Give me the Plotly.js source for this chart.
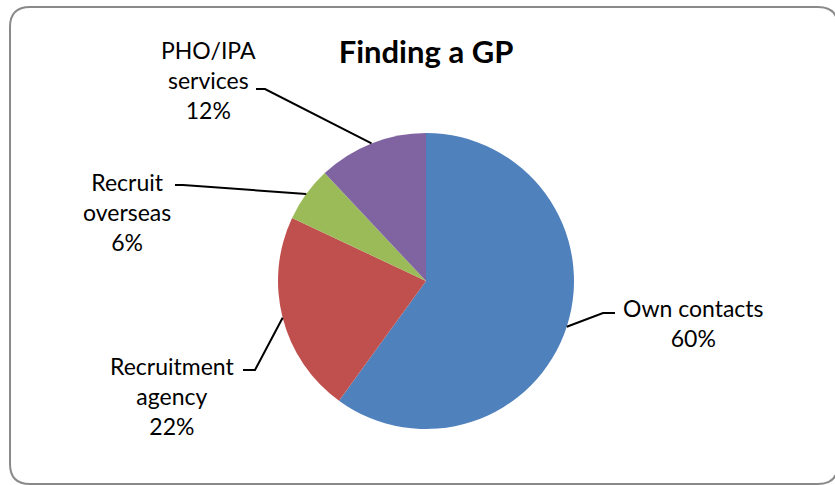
<!DOCTYPE html>
<html>
<head>
<meta charset="utf-8">
<script src="https://cdn.plot.ly/plotly-3.0.1.min.js"></script>
<style>html,body{margin:0;padding:0;background:#fff;}#chart{width:835px;height:485px;}</style>
</head>
<body>
<div id="chart"></div>
<script>
// ---- data ----
const categories = ['Own contacts', 'Recruitment agency', 'Recruit overseas', 'PHO/IPA services'];
const labelText = ['Own contacts', 'Recruitment<br>agency', 'Recruit<br>overseas', 'PHO/IPA<br>services'];
const values = [60, 22, 6, 12];
const colors = ['#4F81BD', '#C0504D', '#9BBB59', '#8064A2'];
const chartTitle = 'Finding a GP';

// ---- layout (pixels) ----
const W = 835, H = 485;
const CX = 426, CY = 281, R = 148;
// label text centers and leader elbows (text-side end, elbow)
const labelCenters = [[693, 323], [172, 396], [127, 212], [208, 80]];
const elbows = [[[615, 313], [603, 313]], [[243, 370], [255, 370]], [[175, 185], [183, 185]], [[256, 89], [265, 89]]];

const px = x => x / W;
const py = y => 1 - y / H;

const total = values.reduce((a, b) => a + b, 0);
let cum = 0;
const shapes = [];
const annotations = [];
values.forEach((v, i) => {
  const mid = (cum + v / 2) / total * 2 * Math.PI;
  cum += v;
  const tx = CX + R * Math.sin(mid);
  const ty = CY - R * Math.cos(mid);
  const [a, b] = elbows[i];
  shapes.push({
    type: 'path', xref: 'paper', yref: 'paper',
    path: `M ${px(a[0])} ${py(a[1])} L ${px(b[0])} ${py(b[1])} L ${px(tx)} ${py(ty)}`,
    line: {color: '#000', width: 2}
  });
  const pct = Math.round(v / total * 100) + '%';
  annotations.push({
    xref: 'paper', yref: 'paper', x: px(labelCenters[i][0]), y: py(labelCenters[i][1]),
    xanchor: 'center', yanchor: 'middle', showarrow: false,
    text: labelText[i] + '<br>' + pct,
    font: {family: 'Lato', size: 23, color: '#000'}
  });
});

// rounded border
const bx0 = 10, by0 = 7, bx1 = 838, by1 = 484, br = 20;
shapes.push({
  type: 'path', xref: 'paper', yref: 'paper',
  path: `M ${px(bx0 + br)} ${py(by0)} L ${px(bx1 - br)} ${py(by0)} Q ${px(bx1)} ${py(by0)} ${px(bx1)} ${py(by0 + br)} ` +
        `L ${px(bx1)} ${py(by1 - br)} Q ${px(bx1)} ${py(by1)} ${px(bx1 - br)} ${py(by1)} ` +
        `L ${px(bx0 + br)} ${py(by1)} Q ${px(bx0)} ${py(by1)} ${px(bx0)} ${py(by1 - br)} ` +
        `L ${px(bx0)} ${py(by0 + br)} Q ${px(bx0)} ${py(by0)} ${px(bx0 + br)} ${py(by0)} Z`,
  line: {color: '#8a8a8a', width: 2}
});

const trace = {
  type: 'pie',
  labels: categories,
  values: values,
  sort: false,
  direction: 'clockwise',
  rotation: 0,
  textinfo: 'none',
  hoverinfo: 'label+percent',
  marker: {colors: colors, line: {width: 0}},
  domain: {x: [px(CX - R), px(CX + R)], y: [py(CY + R), py(CY - R)]},
  showlegend: false
};

const layout = {
  width: W, height: H,
  margin: {l: 0, r: 0, t: 0, b: 0},
  paper_bgcolor: '#fff',
  title: {
    text: '<b>' + chartTitle + '</b>',
    x: px(426), y: py(52), xanchor: 'center', yanchor: 'middle',
    xref: 'paper', yref: 'paper',
    font: {family: 'Lato', size: 31, color: '#000'}
  },
  shapes: shapes,
  annotations: annotations
};

Plotly.newPlot('chart', [trace], layout, {displayModeBar: false, staticPlot: true});
</script>
</body>
</html>
